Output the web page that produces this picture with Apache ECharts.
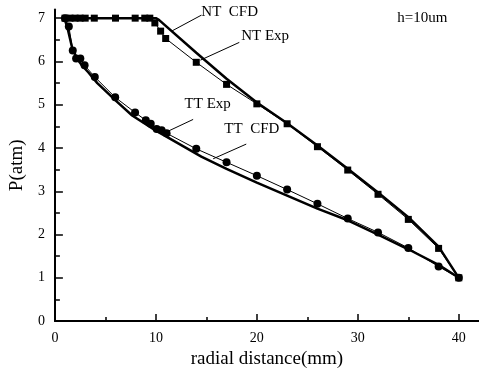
<!DOCTYPE html>
<html><head><meta charset="utf-8">
<script src="https://cdn.jsdelivr.net/npm/echarts@6/dist/echarts.min.js"></script>
<style>html,body{margin:0;padding:0;background:#fff}#c{width:479px;height:374px}</style>
</head><body><div id="c"></div>
<script>
// ---- data ----
const ntExpX = [1.0, 1.5, 2.0, 2.5, 3.0, 3.9, 6.0, 7.95, 8.9, 9.4, 9.9, 10.47, 10.97, 14.0, 17.0, 20.0, 23.0, 26.0, 29.0, 32.0, 35.0, 38.0, 40.0];
const ntExpY = [7.0, 7.0, 7.0, 7.0, 7.0, 7.0, 7.0, 7.0, 7.0, 7.0, 6.89, 6.7, 6.53, 5.98, 5.47, 5.02, 4.56, 4.03, 3.49, 2.93, 2.35, 1.68, 1.0];
const ntCfdX = [0.9, 10.0, 10.3, 14.0, 17.0, 20.0, 23.0, 26.0, 29.0, 32.0, 35.0, 38.0, 40.0];
const ntCfdY = [7.0, 7.0, 6.96, 6.2, 5.6, 5.05, 4.57, 4.06, 3.52, 2.97, 2.4, 1.72, 1.0];
const ttExpX = [1.0, 1.38, 1.77, 2.1, 2.52, 2.94, 3.95, 5.97, 7.94, 9.0, 9.49, 10.08, 10.57, 11.06, 14.0, 17.0, 20.0, 23.0, 26.0, 29.0, 32.0, 35.0, 38.0, 40.0];
const ttExpY = [7.0, 6.81, 6.25, 6.07, 6.07, 5.91, 5.64, 5.17, 4.82, 4.64, 4.56, 4.44, 4.41, 4.34, 3.98, 3.67, 3.36, 3.04, 2.71, 2.37, 2.05, 1.69, 1.26, 1.0];
const ttCfdX = [0.95, 1.3, 1.7, 2.2, 2.7, 3.3, 4.2, 6.0, 7.65, 10.0, 11.0, 14.5, 17.0, 20.0, 23.0, 26.0, 29.0, 32.0, 35.0, 38.0, 40.0];
const ttCfdY = [7.0, 6.72, 6.32, 6.06, 5.9, 5.75, 5.5, 5.1, 4.75, 4.4, 4.27, 3.8, 3.52, 3.2, 2.9, 2.6, 2.33, 2.0, 1.66, 1.3, 1.0];
const xTicks = [0, 10, 20, 30, 40];
const xMinor = [5, 15, 25, 35];
const yTicks = [0, 1, 2, 3, 4, 5, 6, 7];
const yMinor = [0.5, 1.5, 2.5, 3.5, 4.5, 5.5, 6.5];
// annotations: [text, textX, textY, lineFrom, lineTo]
const notes = [
  ['NT  CFD', 14.5, 7.14, [11.56, 6.70], [14.51, 7.07]],
  ['NT Exp', 18.45, 6.58, [14.41, 6.03], [18.26, 6.44]],
  ['TT Exp', 12.84, 5.01, [11.23, 4.39], [13.69, 4.66]],
  ['TT  CFD', 16.78, 4.43, [15.67, 3.75], [18.95, 4.09]],
  ['h=10um', 33.9, 7.0, null, null]
];

const zip = (a, b) => a.map((v, i) => [v, b[i]]);
const FONT = "'Liberation Serif','Times New Roman',serif";
const chart = echarts.init(document.getElementById('c'), null, {renderer: 'canvas'});
const XMIN = 0, XMAX = 42, YMIN = 0, YMAX = 7.2;
function xAx(main) {
  return {
    type: 'value', min: XMIN, max: XMAX, position: 'bottom',
    axisLine: {show: main, onZero: false, lineStyle: {color: '#000', width: 2}},
    axisTick: {show: true, inside: true, length: main ? 7 : 4, lineStyle: {color: '#000', width: 1.5}, customValues: main ? xTicks : xMinor},
    axisLabel: {show: main, customValues: xTicks, margin: 10, color: '#000', fontSize: 14, fontFamily: FONT},
    splitLine: {show: false},
    name: main ? 'radial distance(mm)' : '', nameLocation: 'middle', nameGap: 23,
    nameTextStyle: {color: '#000', fontSize: 19, fontFamily: FONT}
  };
}
function yAx(main) {
  return {
    type: 'value', min: YMIN, max: YMAX, position: 'left',
    axisLine: {show: main, onZero: false, lineStyle: {color: '#000', width: 2}},
    axisTick: {show: true, inside: true, length: main ? 8 : 5, lineStyle: {color: '#000', width: 1.5}, customValues: main ? yTicks : yMinor},
    axisLabel: {show: main, customValues: yTicks, margin: 10, color: '#000', fontSize: 14, fontFamily: FONT},
    splitLine: {show: false},
    name: main ? 'P(atm)' : '', nameLocation: 'middle', nameGap: 27,
    nameTextStyle: {color: '#000', fontSize: 19, fontFamily: FONT}
  };
}
const option = {
  animation: false,
  backgroundColor: '#fff',
  grid: {left: 53, right: 0, top: 9.5, bottom: 47, containLabel: false},
  xAxis: [xAx(true), xAx(false)],
  yAxis: [yAx(true), yAx(false)],
  series: [
    {type: 'line', data: zip(ntExpX, ntExpY), symbol: 'rect', symbolSize: 7, showSymbol: true,
     itemStyle: {color: '#000'}, lineStyle: {color: '#000', width: 1}, z: 3},
    {type: 'line', data: zip(ntCfdX, ntCfdY), symbol: 'none',
     lineStyle: {color: '#000', width: 2.5}, z: 2},
    {type: 'line', data: zip(ttExpX, ttExpY), symbol: 'circle', symbolSize: 8, showSymbol: true,
     itemStyle: {color: '#000'}, lineStyle: {color: '#000', width: 1}, z: 3},
    {type: 'line', data: zip(ttCfdX, ttCfdY), symbol: 'none',
     lineStyle: {color: '#000', width: 2.5}, z: 2}
  ]
};
chart.setOption(option);
const g = [];
notes.forEach(n => {
  const p = chart.convertToPixel({gridIndex: 0}, [n[1], n[2]]);
  g.push({type: 'text', x: p[0], y: p[1], z: 10,
    style: {text: n[0], fill: '#000', font: '15px ' + FONT, textVerticalAlign: 'middle', verticalAlign: 'middle'}});
  if (n[3]) {
    const a = chart.convertToPixel({gridIndex: 0}, n[3]);
    const b = chart.convertToPixel({gridIndex: 0}, n[4]);
    g.push({type: 'line', z: 10, shape: {x1: a[0], y1: a[1], x2: b[0], y2: b[1]}, style: {stroke: '#000', lineWidth: 1}});
  }
});
chart.setOption({graphic: g});
</script></body></html>
